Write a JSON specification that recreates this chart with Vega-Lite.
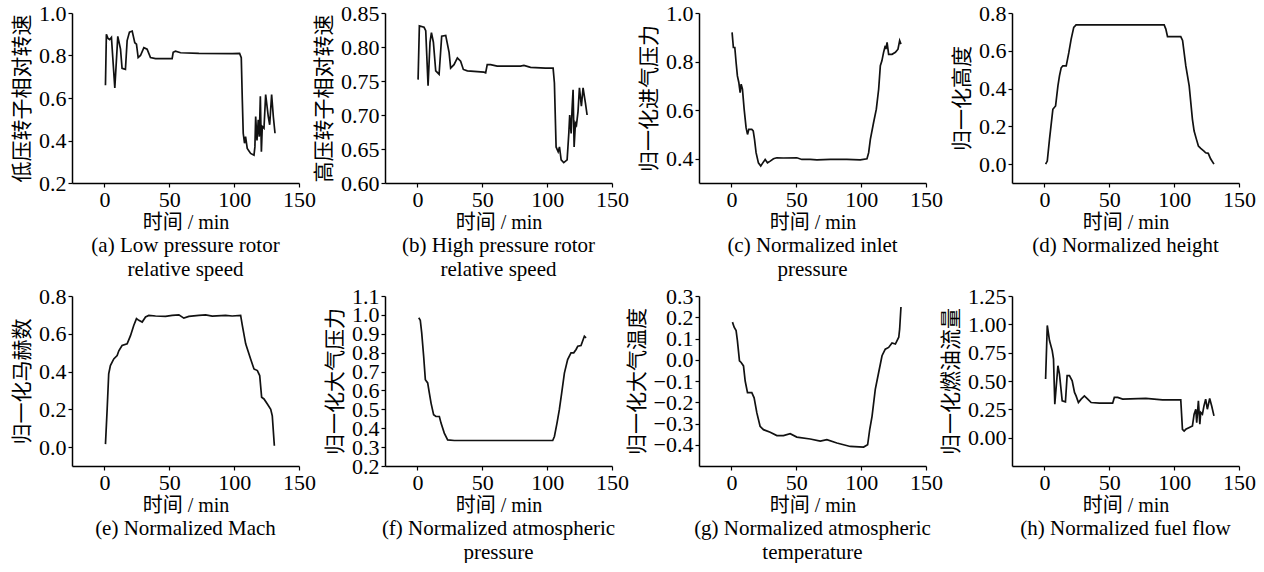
{
  "$schema": "https://vega.github.io/schema/vega-lite/v6.json",
  "background": "white",
  "padding": {"left": 11, "top": 2, "right": 0, "bottom": 0},
  "columns": 4,
  "spacing": {"row": 5, "column": -3},
  "config": {
    "view": {"stroke": null},
    "font": "Liberation Serif, Noto Sans CJK SC",
    "axis": {
      "labelFont": "Liberation Serif, Noto Sans CJK SC",
      "titleFont": "Liberation Serif, Noto Sans CJK SC",
      "labelFontSize": 22,
      "titleFontSize": 20,
      "titleFontWeight": "normal",
      "labelColor": "black",
      "titleColor": "black",
      "domainColor": "black",
      "tickColor": "black",
      "domainWidth": 1.5,
      "tickWidth": 1.2,
      "tickSize": 4,
      "labelPadding": 2,
      "titlePadding": 4,
      "grid": false,
      "labelFlush": false,
      "labelOverlap": false
    },
    "axisX": {"titlePadding": 2},
    "axisY": {"titlePadding": 6, "titleFontSize": 21},
    "title": {
      "orient": "bottom",
      "anchor": "middle",
      "frame": "group",
      "font": "Liberation Serif, Noto Sans CJK SC",
      "fontSize": 21,
      "fontWeight": "normal",
      "color": "black",
      "lineHeight": 24,
      "offset": 3
    },
    "line": {"color": "#111111", "strokeWidth": 1.7}
  },
  "concat": [
    {
      "width": 227, "height": 170,
      "title": {"text": ["(a) Low pressure rotor", "relative speed"]},
      "data": {"values": [
        {"t":0.8,"v":0.66},{"t":1.5,"v":0.9},{"t":2.8,"v":0.88},{"t":4,"v":0.875},{"t":5.4,"v":0.885},{"t":8.0,"v":0.647},{"t":10.3,"v":0.89},{"t":12.4,"v":0.83},{"t":13.6,"v":0.74},{"t":16.2,"v":0.735},{"t":17.5,"v":0.87},{"t":19.3,"v":0.91},{"t":21.4,"v":0.915},{"t":23.4,"v":0.86},{"t":24.7,"v":0.853},{"t":26,"v":0.79},{"t":27.8,"v":0.8},{"t":30.4,"v":0.837},{"t":32.9,"v":0.83},{"t":35.5,"v":0.79},{"t":39.4,"v":0.785},{"t":45,"v":0.785},{"t":52.2,"v":0.785},{"t":53,"v":0.815},{"t":54.8,"v":0.82},{"t":58.7,"v":0.813},{"t":72.8,"v":0.81},{"t":98.6,"v":0.809},{"t":104.2,"v":0.81},{"t":105.5,"v":0.79},{"t":106.3,"v":0.59},{"t":107,"v":0.434},{"t":108,"v":0.387},{"t":108.8,"v":0.418},{"t":110.1,"v":0.363},{"t":112.7,"v":0.339},{"t":115.3,"v":0.331},{"t":116,"v":0.37},{"t":116.6,"v":0.513},{"t":117.6,"v":0.4},{"t":118.6,"v":0.497},{"t":119.4,"v":0.418},{"t":120.2,"v":0.608},{"t":121,"v":0.347},{"t":121.7,"v":0.466},{"t":123,"v":0.458},{"t":124.3,"v":0.616},{"t":126.3,"v":0.513},{"t":127.4,"v":0.474},{"t":128.9,"v":0.616},{"t":130.2,"v":0.513},{"t":131.5,"v":0.434}
      ]},
      "mark": {"type": "line"},
      "encoding": {
        "x": {"field": "t", "type": "quantitative", "scale": {"domain": [-25, 150], "nice": false}, "axis": {"values": [0, 50, 100, 150], "title": "时间 / min"}},
        "y": {"field": "v", "type": "quantitative", "scale": {"domain": [0.2, 1.0], "nice": false, "zero": false}, "axis": {"values": [0.2, 0.4, 0.6, 0.8, 1.0], "format": ".1f", "title": "低压转子相对转速"}}
      }
    },
    {
      "width": 227, "height": 170,
      "title": {"text": ["(b) High pressure rotor", "relative speed"]},
      "data": {"values": [
        {"t":0.5,"v":0.752},{"t":1.5,"v":0.831},{"t":5.1,"v":0.829},{"t":6.4,"v":0.824},{"t":8.2,"v":0.743},{"t":9.7,"v":0.807},{"t":10.8,"v":0.821},{"t":12.3,"v":0.807},{"t":14.1,"v":0.765},{"t":16.7,"v":0.76},{"t":18.7,"v":0.816},{"t":21.8,"v":0.817},{"t":24.4,"v":0.792},{"t":25.6,"v":0.769},{"t":28.2,"v":0.774},{"t":30.8,"v":0.784},{"t":33.3,"v":0.779},{"t":35.4,"v":0.767},{"t":38.5,"v":0.765},{"t":51.3,"v":0.763},{"t":52.6,"v":0.762},{"t":53.8,"v":0.774},{"t":56.4,"v":0.774},{"t":61.5,"v":0.772},{"t":79.5,"v":0.772},{"t":82.1,"v":0.773},{"t":87.2,"v":0.77},{"t":98.7,"v":0.769},{"t":104.6,"v":0.769},{"t":105.6,"v":0.747},{"t":106.9,"v":0.653},{"t":108.5,"v":0.646},{"t":109.5,"v":0.653},{"t":110.8,"v":0.634},{"t":112.8,"v":0.63},{"t":115.4,"v":0.634},{"t":116.7,"v":0.673},{"t":117.4,"v":0.7},{"t":118.5,"v":0.673},{"t":119.2,"v":0.708},{"t":120,"v":0.737},{"t":120.8,"v":0.653},{"t":121.8,"v":0.688},{"t":122.6,"v":0.685},{"t":123.8,"v":0.705},{"t":124.9,"v":0.74},{"t":126.4,"v":0.713},{"t":127.7,"v":0.74},{"t":129.5,"v":0.718},{"t":130.8,"v":0.7}
      ]},
      "mark": {"type": "line"},
      "encoding": {
        "x": {"field": "t", "type": "quantitative", "scale": {"domain": [-25, 150], "nice": false}, "axis": {"values": [0, 50, 100, 150], "title": "时间 / min"}},
        "y": {"field": "v", "type": "quantitative", "scale": {"domain": [0.6, 0.85], "nice": false, "zero": false}, "axis": {"values": [0.6, 0.65, 0.7, 0.75, 0.8, 0.85], "format": ".2f", "title": "高压转子相对转速"}}
      }
    },
    {
      "width": 227, "height": 170,
      "title": {"text": ["(c) Normalized inlet", "pressure"]},
      "data": {"values": [
        {"t":0.5,"v":0.92},{"t":1.5,"v":0.858},{"t":2.6,"v":0.858},{"t":3.6,"v":0.796},{"t":4.6,"v":0.741},{"t":5.7,"v":0.714},{"t":6.7,"v":0.672},{"t":7.5,"v":0.707},{"t":8.5,"v":0.686},{"t":9.8,"v":0.604},{"t":11.3,"v":0.528},{"t":12.4,"v":0.5},{"t":13.4,"v":0.521},{"t":15.7,"v":0.521},{"t":16.8,"v":0.515},{"t":17.8,"v":0.48},{"t":19,"v":0.425},{"t":20.8,"v":0.383},{"t":22.6,"v":0.37},{"t":24.2,"v":0.383},{"t":26,"v":0.397},{"t":27.8,"v":0.383},{"t":29.9,"v":0.39},{"t":32.4,"v":0.4},{"t":35,"v":0.404},{"t":40,"v":0.403},{"t":50.4,"v":0.404},{"t":54.3,"v":0.397},{"t":60.7,"v":0.397},{"t":65.9,"v":0.395},{"t":76.2,"v":0.397},{"t":89,"v":0.397},{"t":99.3,"v":0.395},{"t":104.5,"v":0.4},{"t":105.8,"v":0.425},{"t":107.1,"v":0.48},{"t":109.6,"v":0.549},{"t":111.7,"v":0.604},{"t":113.5,"v":0.686},{"t":114.8,"v":0.783},{"t":116,"v":0.803},{"t":117.3,"v":0.838},{"t":118.6,"v":0.865},{"t":119.1,"v":0.851},{"t":120,"v":0.879},{"t":121.2,"v":0.83},{"t":123.8,"v":0.83},{"t":126.4,"v":0.838},{"t":128.4,"v":0.851},{"t":129.7,"v":0.886},{"t":130.7,"v":0.872}
      ]},
      "mark": {"type": "line"},
      "encoding": {
        "x": {"field": "t", "type": "quantitative", "scale": {"domain": [-25, 150], "nice": false}, "axis": {"values": [0, 50, 100, 150], "title": "时间 / min"}},
        "y": {"field": "v", "type": "quantitative", "scale": {"domain": [0.3, 1.0], "nice": false, "zero": false}, "axis": {"values": [0.4, 0.6, 0.8, 1.0], "format": ".1f", "title": "归一化进气压力"}}
      }
    },
    {
      "width": 227, "height": 170,
      "title": {"text": ["(d) Normalized height"]},
      "data": {"values": [
        {"t":0.9,"v":0.0},{"t":2.2,"v":0.016},{"t":3.9,"v":0.131},{"t":6.5,"v":0.29},{"t":8.6,"v":0.308},{"t":10.4,"v":0.414},{"t":11.6,"v":0.467},{"t":12.9,"v":0.51},{"t":14.2,"v":0.52},{"t":16.8,"v":0.52},{"t":18.8,"v":0.59},{"t":20.6,"v":0.662},{"t":22.6,"v":0.724},{"t":24.4,"v":0.737},{"t":52.6,"v":0.737},{"t":92.3,"v":0.737},{"t":93.6,"v":0.715},{"t":94.9,"v":0.675},{"t":105.1,"v":0.675},{"t":106.5,"v":0.655},{"t":109,"v":0.52},{"t":111.6,"v":0.414},{"t":114.1,"v":0.237},{"t":115.4,"v":0.175},{"t":117.2,"v":0.131},{"t":118.7,"v":0.096},{"t":120.5,"v":0.083},{"t":123,"v":0.069},{"t":124.3,"v":0.06},{"t":126.3,"v":0.057},{"t":128.1,"v":0.028},{"t":130.7,"v":0.0}
      ]},
      "mark": {"type": "line"},
      "encoding": {
        "x": {"field": "t", "type": "quantitative", "scale": {"domain": [-25, 150], "nice": false}, "axis": {"values": [0, 50, 100, 150], "title": "时间 / min"}},
        "y": {"field": "v", "type": "quantitative", "scale": {"domain": [-0.1, 0.8], "nice": false, "zero": false}, "axis": {"values": [0, 0.2, 0.4, 0.6, 0.8], "format": ".1f", "title": "归一化高度"}}
      }
    },
    {
      "width": 227, "height": 170,
      "title": {"text": ["(e) Normalized Mach"]},
      "data": {"values": [
        {"t":0.8,"v":0.016},{"t":2.1,"v":0.2},{"t":3.3,"v":0.388},{"t":4.6,"v":0.432},{"t":7.2,"v":0.467},{"t":9.8,"v":0.485},{"t":11.1,"v":0.51},{"t":13.6,"v":0.538},{"t":17.5,"v":0.547},{"t":20.1,"v":0.59},{"t":22.6,"v":0.644},{"t":24.7,"v":0.68},{"t":26.5,"v":0.671},{"t":29.1,"v":0.662},{"t":31.7,"v":0.689},{"t":34.2,"v":0.697},{"t":39.4,"v":0.694},{"t":47.1,"v":0.692},{"t":52.2,"v":0.697},{"t":57.4,"v":0.7},{"t":61.2,"v":0.683},{"t":65.1,"v":0.692},{"t":72.8,"v":0.697},{"t":78,"v":0.7},{"t":83.1,"v":0.694},{"t":93.4,"v":0.697},{"t":98.5,"v":0.694},{"t":105,"v":0.697},{"t":106.3,"v":0.644},{"t":108.9,"v":0.547},{"t":112.7,"v":0.467},{"t":115.3,"v":0.414},{"t":117.9,"v":0.405},{"t":119.7,"v":0.379},{"t":121.2,"v":0.264},{"t":123,"v":0.255},{"t":125.6,"v":0.228},{"t":128.2,"v":0.2},{"t":129.4,"v":0.166},{"t":131,"v":0.007}
      ]},
      "mark": {"type": "line"},
      "encoding": {
        "x": {"field": "t", "type": "quantitative", "scale": {"domain": [-25, 150], "nice": false}, "axis": {"values": [0, 50, 100, 150], "title": "时间 / min"}},
        "y": {"field": "v", "type": "quantitative", "scale": {"domain": [-0.1, 0.8], "nice": false, "zero": false}, "axis": {"values": [0, 0.2, 0.4, 0.6, 0.8], "format": ".1f", "title": "归一化马赫数"}}
      }
    },
    {
      "width": 227, "height": 170,
      "title": {"text": ["(f) Normalized atmospheric", "pressure"]},
      "data": {"values": [
        {"t":1,"v":0.985},{"t":2.2,"v":0.972},{"t":3.3,"v":0.905},{"t":4.8,"v":0.781},{"t":6.1,"v":0.657},{"t":7.9,"v":0.64},{"t":9.2,"v":0.586},{"t":10.5,"v":0.533},{"t":12.5,"v":0.471},{"t":14.3,"v":0.462},{"t":16.9,"v":0.462},{"t":18.2,"v":0.427},{"t":20.7,"v":0.374},{"t":23.3,"v":0.338},{"t":28.4,"v":0.335},{"t":49,"v":0.335},{"t":74.7,"v":0.335},{"t":104.3,"v":0.335},{"t":105.6,"v":0.356},{"t":107.6,"v":0.427},{"t":109.4,"v":0.498},{"t":111.2,"v":0.586},{"t":113.3,"v":0.692},{"t":115.8,"v":0.763},{"t":118.4,"v":0.799},{"t":120.5,"v":0.799},{"t":122.3,"v":0.817},{"t":123.6,"v":0.834},{"t":126.1,"v":0.838},{"t":128.7,"v":0.887},{"t":130,"v":0.878}
      ]},
      "mark": {"type": "line"},
      "encoding": {
        "x": {"field": "t", "type": "quantitative", "scale": {"domain": [-25, 150], "nice": false}, "axis": {"values": [0, 50, 100, 150], "title": "时间 / min"}},
        "y": {"field": "v", "type": "quantitative", "scale": {"domain": [0.2, 1.1], "nice": false, "zero": false}, "axis": {"values": [0.2, 0.3, 0.4, 0.5, 0.6, 0.7, 0.8, 0.9, 1.0, 1.1], "format": ".1f", "title": "归一化大气压力"}}
      }
    },
    {
      "width": 227, "height": 170,
      "title": {"text": ["(g) Normalized atmospheric", "temperature"]},
      "data": {"values": [
        {"t":0.8,"v":0.177},{"t":2.1,"v":0.153},{"t":3.6,"v":0.137},{"t":4.6,"v":0.09},{"t":6.2,"v":-0.005},{"t":7.5,"v":-0.013},{"t":9.3,"v":-0.029},{"t":10.6,"v":-0.1},{"t":12.4,"v":-0.155},{"t":13.9,"v":-0.155},{"t":15.7,"v":-0.155},{"t":17.5,"v":-0.179},{"t":19.6,"v":-0.25},{"t":22.1,"v":-0.313},{"t":24.7,"v":-0.329},{"t":29.9,"v":-0.341},{"t":35,"v":-0.357},{"t":40.1,"v":-0.357},{"t":45.3,"v":-0.348},{"t":50.4,"v":-0.364},{"t":60.7,"v":-0.373},{"t":68.5,"v":-0.383},{"t":73.6,"v":-0.376},{"t":81.3,"v":-0.392},{"t":91.6,"v":-0.408},{"t":101.9,"v":-0.411},{"t":105,"v":-0.4},{"t":106.6,"v":-0.329},{"t":108.4,"v":-0.266},{"t":110.9,"v":-0.139},{"t":113.5,"v":-0.06},{"t":116.1,"v":0.019},{"t":118.6,"v":0.05},{"t":121.2,"v":0.058},{"t":123.8,"v":0.079},{"t":126.4,"v":0.074},{"t":129,"v":0.106},{"t":129.7,"v":0.145},{"t":130.7,"v":0.248}
      ]},
      "mark": {"type": "line"},
      "encoding": {
        "x": {"field": "t", "type": "quantitative", "scale": {"domain": [-25, 150], "nice": false}, "axis": {"values": [0, 50, 100, 150], "title": "时间 / min"}},
        "y": {"field": "v", "type": "quantitative", "scale": {"domain": [-0.5, 0.3], "nice": false, "zero": false}, "axis": {"values": [-0.4, -0.3, -0.2, -0.1, 0, 0.1, 0.2, 0.3], "format": ".1f", "title": "归一化大气温度"}}
      }
    },
    {
      "width": 227, "height": 170,
      "title": {"text": ["(h) Normalized fuel flow"]},
      "data": {"values": [
        {"t":0.9,"v":0.517},{"t":2.2,"v":0.99},{"t":3.9,"v":0.857},{"t":6,"v":0.768},{"t":7,"v":0.694},{"t":8,"v":0.295},{"t":10.4,"v":0.635},{"t":11.6,"v":0.561},{"t":13.7,"v":0.325},{"t":16.2,"v":0.316},{"t":17.5,"v":0.547},{"t":19.3,"v":0.547},{"t":21.4,"v":0.502},{"t":23.2,"v":0.399},{"t":24.4,"v":0.369},{"t":26.2,"v":0.31},{"t":28.3,"v":0.34},{"t":30.8,"v":0.369},{"t":33.4,"v":0.34},{"t":36,"v":0.31},{"t":42.4,"v":0.304},{"t":52.6,"v":0.304},{"t":53.9,"v":0.355},{"t":56.5,"v":0.355},{"t":60.3,"v":0.34},{"t":78.2,"v":0.346},{"t":91,"v":0.334},{"t":105.1,"v":0.334},{"t":106.4,"v":0.074},{"t":107.7,"v":0.059},{"t":109,"v":0.074},{"t":114.1,"v":0.103},{"t":115.4,"v":0.207},{"t":116.7,"v":0.251},{"t":117.4,"v":0.133},{"t":118.7,"v":0.325},{"t":119.8,"v":0.118},{"t":120.5,"v":0.222},{"t":121.8,"v":0.207},{"t":123,"v":0.281},{"t":124.3,"v":0.34},{"t":125.6,"v":0.251},{"t":127.4,"v":0.346},{"t":128.9,"v":0.281},{"t":130.7,"v":0.192}
      ]},
      "mark": {"type": "line"},
      "encoding": {
        "x": {"field": "t", "type": "quantitative", "scale": {"domain": [-25, 150], "nice": false}, "axis": {"values": [0, 50, 100, 150], "title": "时间 / min"}},
        "y": {"field": "v", "type": "quantitative", "scale": {"domain": [-0.25, 1.25], "nice": false, "zero": false}, "axis": {"values": [0, 0.25, 0.5, 0.75, 1.0, 1.25], "format": ".2f", "title": "归一化燃油流量"}}
      }
    }
  ]
}
